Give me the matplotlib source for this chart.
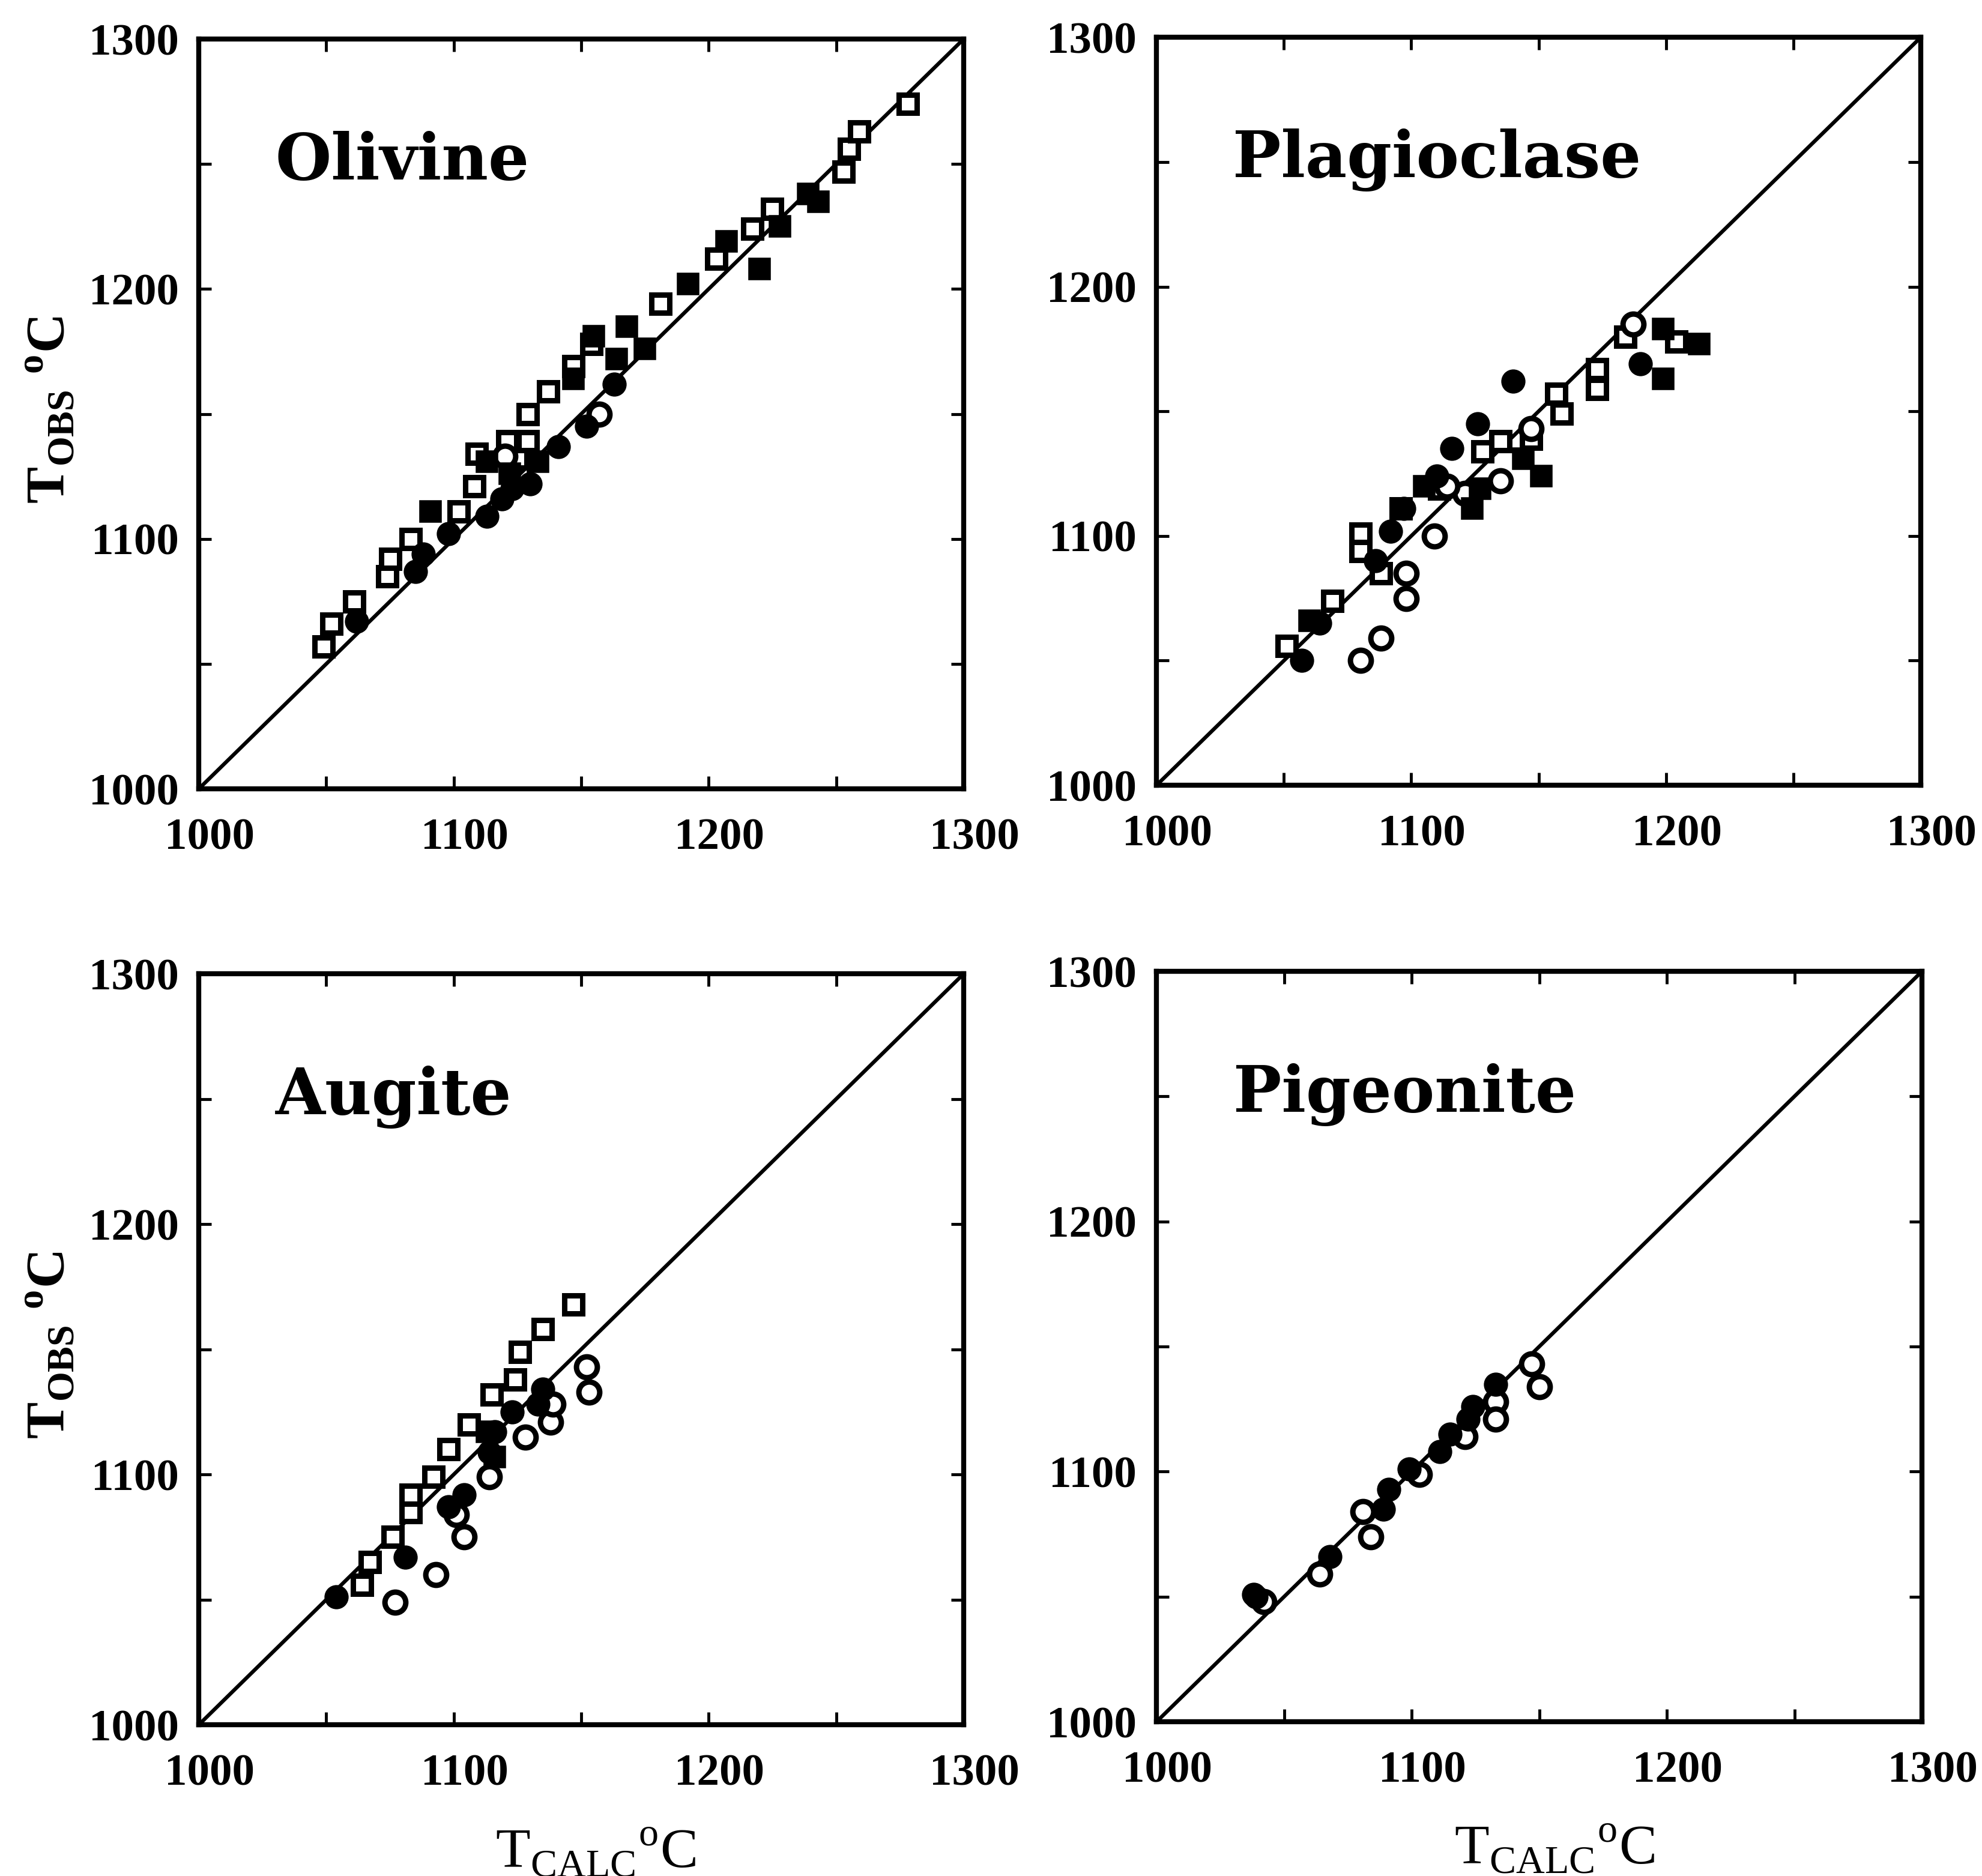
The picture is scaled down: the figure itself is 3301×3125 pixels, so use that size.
import matplotlib.pyplot as plt
import matplotlib.transforms as mtransforms
from matplotlib.ticker import MultipleLocator

# Olivine
ol_osq_x = [1049, 1052, 1061, 1074, 1075, 1083, 1102, 1108, 1109, 1121, 1125, 1129,
            1129, 1137, 1147, 1154, 1181, 1203, 1217, 1225, 1253, 1255, 1259, 1278]
ol_osq_y = [1057, 1066, 1075, 1085, 1092, 1100, 1111, 1121, 1134, 1139, 1132, 1139,
            1150, 1159, 1169, 1178, 1194, 1212, 1224, 1232, 1247, 1256, 1263, 1274]
ol_fsq_x = [1091, 1113, 1122, 1133, 1147, 1155, 1168, 1164, 1175, 1192, 1207, 1220,
            1228, 1239, 1243]
ol_fsq_y = [1111, 1131, 1126, 1131, 1164, 1181, 1185, 1172, 1176, 1202, 1219, 1208,
            1225, 1238, 1235]
ol_ocirc_x = [1157, 1120]
ol_ocirc_y = [1150, 1133]
ol_fcirc_x = [1062, 1085, 1088, 1098, 1113, 1119, 1123, 1130, 1141, 1152, 1163]
ol_fcirc_y = [1067, 1087, 1094, 1102, 1109, 1116, 1120, 1122, 1137, 1145, 1162]

# Plagioclase
pl_osq_x = [1051, 1069, 1080, 1080, 1088, 1096, 1128, 1135, 1147, 1157, 1159, 1173,
            1173, 1184, 1204, 1111]
pl_osq_y = [1056, 1074, 1101, 1094, 1085, 1111, 1134, 1138, 1139, 1157, 1149, 1167,
            1159, 1180, 1178, 1119]
pl_fsq_x = [1060, 1105, 1124, 1127, 1144, 1151, 1199, 1199, 1213]
pl_fsq_y = [1066, 1120, 1111, 1119, 1131, 1124, 1183, 1163, 1177]
pl_ocirc_x = [1080, 1088, 1098, 1098, 1109, 1121, 1135, 1147, 1187, 1114]
pl_ocirc_y = [1050, 1059, 1085, 1075, 1100, 1117, 1122, 1143, 1185, 1120]
pl_fcirc_x = [1057, 1086, 1092, 1097, 1110, 1116, 1126, 1140, 1190, 1064]
pl_fcirc_y = [1050, 1090, 1102, 1111, 1124, 1135, 1145, 1162, 1169, 1065]

# Augite
ag_osq_x = [1064, 1067, 1076, 1083, 1083, 1092, 1098, 1106, 1115, 1124, 1126, 1135, 1147]
ag_osq_y = [1056, 1065, 1075, 1085, 1092, 1099, 1110, 1120, 1132, 1138, 1149, 1158, 1168]
ag_fsq_x = [1113, 1116]
ag_fsq_y = [1117, 1107]
ag_ocirc_x = [1077, 1093, 1104, 1101, 1114, 1128, 1138, 1139, 1152, 1153]
ag_ocirc_y = [1049, 1060, 1075, 1084, 1099, 1115, 1121, 1128, 1143, 1133]
ag_fcirc_x = [1054, 1081, 1098, 1104, 1114, 1116, 1123, 1135, 1133]
ag_fcirc_y = [1051, 1067, 1087, 1092, 1109, 1117, 1125, 1134, 1128]

# Pigeonite
pg_ocirc_x = [1042, 1064, 1081, 1084, 1103, 1121, 1133, 1133, 1147, 1150]
pg_ocirc_y = [1048, 1059, 1084, 1074, 1099, 1114, 1128, 1121, 1143, 1134]
pg_fcirc_x = [1038, 1039, 1068, 1089, 1091, 1099, 1111, 1115, 1122, 1124, 1133]
pg_fcirc_y = [1051, 1050, 1066, 1085, 1093, 1101, 1108, 1115, 1121, 1126, 1135]

limits = [1000, 1300]
tick_values = [1000, 1100, 1200, 1300]

plt.rcParams['font.family'] = 'Liberation Serif'
plt.rcParams['mathtext.fontset'] = 'custom'
plt.rcParams['mathtext.rm'] = 'Liberation Serif'
plt.rcParams['mathtext.bf'] = 'Liberation Serif:bold'

fig = plt.figure(figsize=(33.01, 31.25), dpi=100)

ax_tl = fig.add_axes([0.1003, 0.5795, 0.3859, 0.3997])
ax_tr = fig.add_axes([0.5835, 0.5814, 0.3856, 0.3987])
ax_bl = fig.add_axes([0.1003, 0.0806, 0.3859, 0.4003])
ax_br = fig.add_axes([0.5835, 0.0822, 0.3862, 0.4000])

shift = mtransforms.ScaledTranslation(0.18, 0, fig.dpi_scale_trans)


def draw_panel(ax, title, osq, fsq, ocirc, fcirc):
    ax.plot(limits, limits, color='black', linewidth=4.5, zorder=2)

    if osq:
        ax.plot(osq[0], osq[1], 's', ms=22, mew=6.5, mfc='white', mec='black',
                linestyle='none', zorder=3)
    if ocirc:
        ax.plot(ocirc[0], ocirc[1], 'o', ms=25, mew=6.5, mfc='white', mec='black',
                linestyle='none', zorder=3)
    if fsq:
        ax.plot(fsq[0], fsq[1], 's', ms=23, mew=4, mfc='black', mec='black',
                linestyle='none', zorder=4)
    if fcirc:
        ax.plot(fcirc[0], fcirc[1], 'o', ms=26, mew=3, mfc='black', mec='black',
                linestyle='none', zorder=4)

    ax.set_xlim(limits)
    ax.set_ylim(limits)
    ax.set_xticks(tick_values)
    ax.set_yticks(tick_values)
    ax.xaxis.set_minor_locator(MultipleLocator(50))
    ax.yaxis.set_minor_locator(MultipleLocator(50))
    ax.tick_params(which='both', direction='in', length=15, width=3.5,
                   top=True, right=True, labelsize=54)
    ax.tick_params(axis='x', pad=35)
    ax.tick_params(axis='y', pad=24)
    for lbl in ax.get_xticklabels() + ax.get_yticklabels():
        lbl.set_fontweight('bold')
    for lbl in ax.get_xticklabels():
        lbl.set_transform(lbl.get_transform() + shift)
    for sp in ax.spines.values():
        sp.set_linewidth(6)

    ax.text(0.10, 0.813, title, transform=ax.transAxes, fontsize=77,
            fontweight='bold', family='DejaVu Serif', va='baseline', ha='left')


draw_panel(ax_tl, 'Olivine', (ol_osq_x, ol_osq_y), (ol_fsq_x, ol_fsq_y),
           (ol_ocirc_x, ol_ocirc_y), (ol_fcirc_x, ol_fcirc_y))
draw_panel(ax_tr, 'Plagioclase', (pl_osq_x, pl_osq_y), (pl_fsq_x, pl_fsq_y),
           (pl_ocirc_x, pl_ocirc_y), (pl_fcirc_x, pl_fcirc_y))
draw_panel(ax_bl, 'Augite', (ag_osq_x, ag_osq_y), (ag_fsq_x, ag_fsq_y),
           (ag_ocirc_x, ag_ocirc_y), (ag_fcirc_x, ag_fcirc_y))
draw_panel(ax_br, 'Pigeonite', None, None,
           (pg_ocirc_x, pg_ocirc_y), (pg_fcirc_x, pg_fcirc_y))

# etichette degli assi
ylab = r'T$_{\mathbf{OBS}}$ $^{\mathbf{o}}$C'
for yc in [0.7814, 0.2829]:
    fig.text(0.0327, yc, ylab, rotation=90, rotation_mode='anchor',
             ha='center', va='baseline', fontsize=66, fontweight='bold')

xlab = r'T$_{\mathrm{CALC}}$$^{\mathrm{o}}$C'
fig.text(0.3005, 0.0045, xlab, ha='center', va='baseline', fontsize=68)
fig.text(0.7843, 0.0065, xlab, ha='center', va='baseline', fontsize=68)

fig.savefig('out.png', dpi=100)
